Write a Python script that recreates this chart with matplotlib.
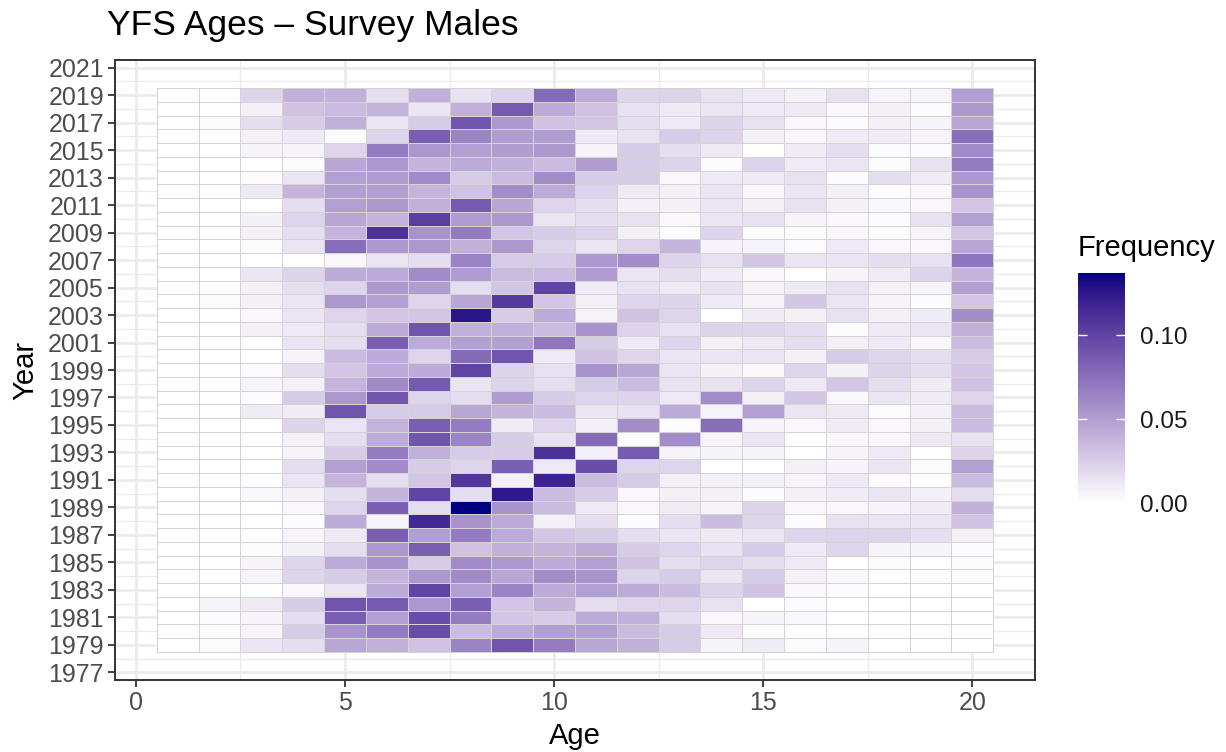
import numpy as np
import matplotlib
matplotlib.use("Agg")
import matplotlib.pyplot as plt
from matplotlib.colors import ListedColormap
from matplotlib.transforms import blended_transform_factory

plt.rcParams['font.family'] = ['Liberation Sans', 'DejaVu Sans']

# Survey years and ages
years = list(range(1979, 2020))
ages = list(range(1, 21))

# Age frequency per year (parts per thousand), ages 1..20
freq_permille = [
    [0, 2, 13, 17, 46, 40, 31, 64, 90, 68, 46, 40, 26, 6, 10, 2, 6, 0, 0, 0],      # 1979
    [0, 2, 6, 26, 56, 68, 95, 34, 43, 49, 49, 34, 26, 11, 2, 0, 0, 0, 0, 0],       # 1980
    [0, 2, 6, 17, 85, 49, 95, 68, 29, 26, 43, 40, 17, 4, 6, 4, 0, 0, 0, 0],        # 1981
    [0, 6, 11, 26, 90, 87, 53, 85, 29, 38, 17, 21, 21, 15, 0, 2, 0, 0, 0, 0],      # 1982
    [0, 0, 0, 4, 13, 43, 100, 49, 64, 43, 49, 43, 34, 22, 31, 4, 2, 0, 0, 0],      # 1983
    [0, 0, 6, 21, 26, 38, 53, 61, 46, 59, 56, 22, 26, 13, 26, 8, 4, 0, 2, 2],      # 1984
    [0, 0, 6, 21, 43, 56, 26, 61, 53, 43, 49, 31, 17, 21, 17, 11, 0, 2, 0, 2],     # 1985
    [0, 0, 2, 8, 17, 53, 85, 31, 40, 38, 43, 26, 21, 15, 26, 11, 21, 6, 6, 2],     # 1986
    [0, 0, 0, 6, 11, 85, 49, 68, 43, 29, 26, 17, 13, 11, 13, 21, 22, 21, 17, 8],   # 1987
    [0, 0, 0, 2, 43, 6, 116, 56, 43, 8, 17, 2, 17, 34, 21, 2, 15, 13, 13, 31],     # 1988
    [0, 0, 0, 4, 21, 85, 17, 137, 56, 34, 11, 4, 10, 6, 22, 4, 4, 6, 10, 40],      # 1989
    [0, 0, 4, 8, 17, 38, 100, 17, 125, 34, 26, 4, 8, 8, 2, 8, 10, 13, 8, 17],      # 1990
    [0, 0, 0, 13, 38, 17, 29, 108, 8, 119, 34, 26, 8, 8, 8, 6, 11, 2, 0, 34],      # 1991
    [0, 0, 0, 17, 49, 61, 26, 21, 85, 11, 95, 21, 21, 0, 0, 8, 6, 13, 2, 49],      # 1992
    [0, 0, 0, 6, 26, 68, 40, 26, 26, 111, 8, 87, 6, 6, 6, 0, 6, 11, 0, 22],        # 1993
    [0, 0, 0, 8, 17, 43, 90, 64, 26, 15, 78, 2, 59, 6, 13, 0, 4, 4, 11, 15],       # 1994
    [0, 0, 0, 22, 13, 38, 85, 68, 10, 21, 8, 59, 2, 76, 6, 4, 10, 4, 8, 34],       # 1995
    [0, 0, 10, 10, 90, 26, 26, 46, 38, 34, 13, 15, 43, 6, 49, 13, 11, 2, 8, 34],   # 1996
    [0, 0, 2, 26, 53, 90, 21, 17, 51, 26, 21, 22, 11, 59, 8, 29, 4, 13, 10, 21],   # 1997
    [0, 0, 6, 8, 38, 61, 87, 13, 22, 17, 26, 34, 15, 15, 21, 11, 29, 17, 10, 31],  # 1998
    [0, 0, 2, 17, 29, 43, 43, 100, 22, 15, 56, 46, 13, 8, 4, 21, 8, 22, 17, 29],   # 1999
    [0, 0, 0, 6, 34, 43, 21, 78, 90, 11, 31, 21, 13, 13, 13, 8, 26, 21, 17, 26],   # 2000
    [0, 0, 0, 13, 17, 85, 43, 49, 49, 72, 26, 11, 21, 8, 11, 17, 8, 11, 4, 34],    # 2001
    [0, 0, 8, 11, 17, 43, 90, 40, 40, 34, 56, 22, 15, 22, 21, 17, 2, 11, 13, 40],  # 2002
    [0, 0, 4, 13, 21, 29, 29, 127, 26, 43, 6, 31, 21, 0, 10, 8, 15, 8, 10, 59],    # 2003
    [0, 2, 8, 13, 53, 49, 21, 46, 106, 29, 8, 21, 22, 11, 6, 29, 13, 6, 2, 29],    # 2004
    [0, 0, 8, 17, 21, 53, 51, 17, 29, 100, 11, 15, 11, 15, 8, 11, 15, 8, 6, 49],   # 2005
    [0, 0, 13, 22, 43, 43, 61, 51, 34, 34, 51, 13, 17, 10, 4, 0, 6, 10, 22, 38],   # 2006
    [0, 0, 0, 0, 4, 13, 17, 64, 26, 26, 53, 59, 22, 15, 29, 13, 13, 17, 15, 72],   # 2007
    [0, 0, 2, 13, 76, 53, 53, 40, 53, 21, 13, 21, 38, 6, 6, 2, 11, 4, 4, 46],      # 2008
    [0, 0, 8, 17, 38, 111, 56, 68, 29, 26, 22, 8, 2, 22, 2, 2, 4, 2, 6, 29],       # 2009
    [0, 0, 8, 21, 46, 38, 103, 51, 53, 13, 17, 15, 4, 13, 15, 6, 4, 2, 15, 49],    # 2010
    [0, 0, 0, 17, 49, 53, 40, 87, 46, 21, 17, 8, 8, 13, 8, 15, 8, 4, 4, 29],       # 2011
    [0, 0, 11, 38, 49, 49, 38, 31, 59, 43, 22, 11, 8, 13, 4, 13, 8, 0, 4, 56],     # 2012
    [0, 0, 2, 13, 49, 51, 61, 26, 34, 59, 26, 26, 4, 11, 11, 15, 2, 17, 10, 53],   # 2013
    [0, 0, 0, 2, 46, 53, 38, 43, 40, 34, 51, 26, 22, 2, 22, 10, 13, 2, 15, 68],    # 2014
    [0, 0, 6, 6, 21, 68, 53, 49, 51, 53, 6, 26, 17, 11, 0, 10, 17, 2, 2, 61],      # 2015
    [0, 0, 8, 11, 2, 21, 85, 64, 51, 51, 11, 15, 26, 22, 8, 4, 10, 10, 6, 76],     # 2016
    [0, 2, 17, 26, 40, 13, 26, 90, 53, 31, 29, 17, 11, 22, 15, 4, 2, 8, 6, 46],    # 2017
    [0, 0, 8, 31, 34, 38, 13, 40, 87, 43, 31, 15, 11, 13, 11, 11, 4, 8, 2, 53],    # 2018
    [0, 0, 22, 40, 40, 17, 40, 15, 22, 78, 43, 21, 22, 15, 11, 8, 15, 6, 6, 49],   # 2019
]
freq = np.array(freq_permille, dtype=float) / 1000.0

x_ticks = [0, 5, 10, 15, 20]
y_ticks = list(range(1977, 2022, 2))
bar_ticks = [0.00, 0.05, 0.10]


# ---- white -> navy gradient interpolated in CIELAB ----
_WHITE = np.array([0.95047, 1.0, 1.08883])
_M = np.array([[0.4124564, 0.3575761, 0.1804375],
               [0.2126729, 0.7151522, 0.0721750],
               [0.0193339, 0.1191920, 0.9503041]])


def srgb_to_lab(rgb):
    rgb = np.asarray(rgb, float)
    lin = np.where(rgb <= 0.04045, rgb / 12.92, ((rgb + 0.055) / 1.055) ** 2.4)
    xyz = lin @ _M.T / _WHITE
    f = np.where(xyz > (6 / 29) ** 3, np.cbrt(xyz), xyz / (3 * (6 / 29) ** 2) + 4 / 29)
    return np.stack([116 * f[..., 1] - 16,
                     500 * (f[..., 0] - f[..., 1]),
                     200 * (f[..., 1] - f[..., 2])], axis=-1)


def lab_to_srgb(lab):
    lab = np.asarray(lab, float)
    fy = (lab[..., 0] + 16) / 116
    fx = fy + lab[..., 1] / 500
    fz = fy - lab[..., 2] / 200
    f = np.stack([fx, fy, fz], axis=-1)
    xyz = np.where(f > 6 / 29, f ** 3, 3 * (6 / 29) ** 2 * (f - 4 / 29)) * _WHITE
    lin = xyz @ np.linalg.inv(_M).T
    lin = np.clip(lin, 0, 1)
    rgb = np.where(lin <= 0.0031308, 12.92 * lin, 1.055 * lin ** (1 / 2.4) - 0.055)
    return np.clip(rgb, 0, 1)


lab_lo = srgb_to_lab([1.0, 1.0, 1.0])
lab_hi = srgb_to_lab([0.0, 0.0, 128 / 255])
tt = np.linspace(0, 1, 256)[:, None]
cmap = ListedColormap(lab_to_srgb(lab_lo + tt * (lab_hi - lab_lo)))

# ---- figure ----
W, H = 1226, 752
fig = plt.figure(figsize=(W / 100, H / 100), dpi=100)
ax = fig.add_axes([115 / W, 1 - 680 / H, 920 / W, 620 / H])

x_edges = np.append(np.array(ages) - 0.5, ages[-1] + 0.5)
y_edges = np.append(np.array(years) - 0.5, years[-1] + 0.5)
mesh = ax.pcolormesh(x_edges, y_edges, freq, cmap=cmap,
                     vmin=0, vmax=freq.max(),
                     edgecolors='#d4d4d4', linewidth=0.7, zorder=2)

span_x = x_edges[-1] - x_edges[0]
span_y = y_edges[-1] - y_edges[0]
ax.set_xlim(x_edges[0] - 0.05 * span_x, x_edges[-1] + 0.05 * span_x)
ax.set_ylim(y_edges[0] - 0.05 * span_y, y_edges[-1] + 0.05 * span_y)

ax.set_xticks(x_ticks)
ax.set_xticks([2.5, 7.5, 12.5, 17.5], minor=True)
ax.set_yticks(y_ticks)
ax.set_yticks(list(range(1978, 2021, 2)), minor=True)
ax.grid(which='major', color='#ebebeb', linewidth=2.0, zorder=0)
ax.grid(which='minor', color='#ebebeb', linewidth=1.0, zorder=0)
ax.set_axisbelow(True)

ax.tick_params(which='major', length=5, width=1.3, color='#333333',
               labelcolor='#4d4d4d', labelsize=18, pad=3)
ax.tick_params(which='minor', length=0)
for sp in ax.spines.values():
    sp.set_color('#333333')
    sp.set_linewidth(1.4)

ax.set_xlabel('Age', fontsize=21, labelpad=5)
ax.set_ylabel('Year', fontsize=21, labelpad=6)

fig.text(107 / W, 1 - 26 / H, 'YFS Ages \u2013 Survey Males', fontsize=25.5,
         ha='left', va='center')

# ---- colourbar ----
cax = fig.add_axes([1078 / W, 1 - 503 / H, 47 / W, 230 / H])
cb = fig.colorbar(mesh, cax=cax)
cb.outline.set_visible(False)
cb.set_ticks(bar_ticks)
cb.ax.set_yticklabels([f'{v:.2f}' for v in bar_ticks])
cb.ax.tick_params(length=0, labelsize=17.5, pad=11, labelcolor='#1a1a1a')
tr = blended_transform_factory(cax.transAxes, cax.transData)
cax.hlines(bar_ticks[1:], 0, 0.2, colors='white', linewidth=1.0, transform=tr)
cax.hlines(bar_ticks[1:], 0.8, 1.0, colors='white', linewidth=1.0, transform=tr)
fig.text(1078 / W, 1 - 248 / H, 'Frequency', fontsize=21, ha='left', va='center')

fig.savefig('out.png', dpi=100)
